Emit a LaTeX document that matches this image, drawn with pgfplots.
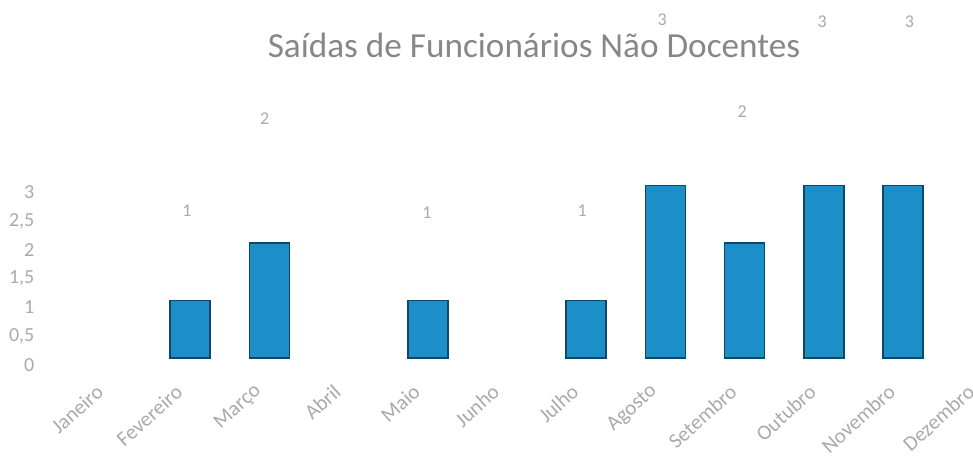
\documentclass[border=0pt]{standalone}
\usepackage{fontspec}
\setmainfont{Carlito}
\usepackage{pgfplots}
\pgfplotsset{compat=1.18}

\definecolor{barblue}{RGB}{28,143,201}
\definecolor{baredge}{RGB}{18,70,105}
\definecolor{ticktxt}{RGB}{170,170,170}
\definecolor{titletxt}{RGB}{135,135,135}

\begin{document}
\begin{tikzpicture}
% page = 973 x 461 px, 1 px = 0.5pt
\path[use as bounding box] (0,0) rectangle (486.5pt,230.5pt);

\node[text=titletxt, font=\fontsize{17.6}{20}\selectfont] at (267pt,208pt)
  {Saídas de Funcionários Não Docentes};

\begin{axis}[
    at={(35.7pt,51.5pt)}, anchor=south west,
    scale only axis,
    width=475.2pt, height=86.25pt,
    xmin=-0.5, xmax=11.5,
    ymin=0, ymax=3,
    clip=false,
    axis line style={draw=none},
    major tick length=0pt,
    xtick={0,...,11},
    xticklabels={Janeiro,Fevereiro,Março,Abril,Maio,Junho,Julho,Agosto,Setembro,Outubro,Novembro,Dezembro},
    xticklabel style={text=ticktxt, font=\fontsize{10.5}{12}\selectfont,
        xshift=-3pt, yshift=-13pt, rotate=42, anchor=east},
    ytick={0,0.5,1,1.5,2,2.5,3},
    yticklabel style={text=ticktxt, font=\fontsize{10}{12}\selectfont,
        xshift=-15pt, yshift=-3.5pt},
    /pgf/number format/use comma,
    /pgf/number format/assume math mode=true,
]

% bars (zero months have no bar)
\addplot[ybar, bar width=20pt, fill=barblue, draw=baredge, line width=0.8pt]
    coordinates {(1,1) (2,2) (4,1) (6,1) (7,3) (8,2) (9,3) (10,3)};

% data labels, set high above the bars as in the scan
\addplot[only marks, mark=none, point meta=explicit,
    nodes near coords, nodes near coords align={center},
    every node near coord/.style={text=ticktxt, font=\fontsize{9}{11}\selectfont, anchor=center}]
    coordinates {
    (0.96,2.56) [1]
    (1.94,4.17) [2]
    (3.99,2.52) [1]
    (5.95,2.57) [1]
    (6.96,5.88) [3]
    (7.97,4.28) [2]
    (8.98,5.84) [3]
    (10.08,5.84) [3]
};
\end{axis}
\end{tikzpicture}
\end{document}
